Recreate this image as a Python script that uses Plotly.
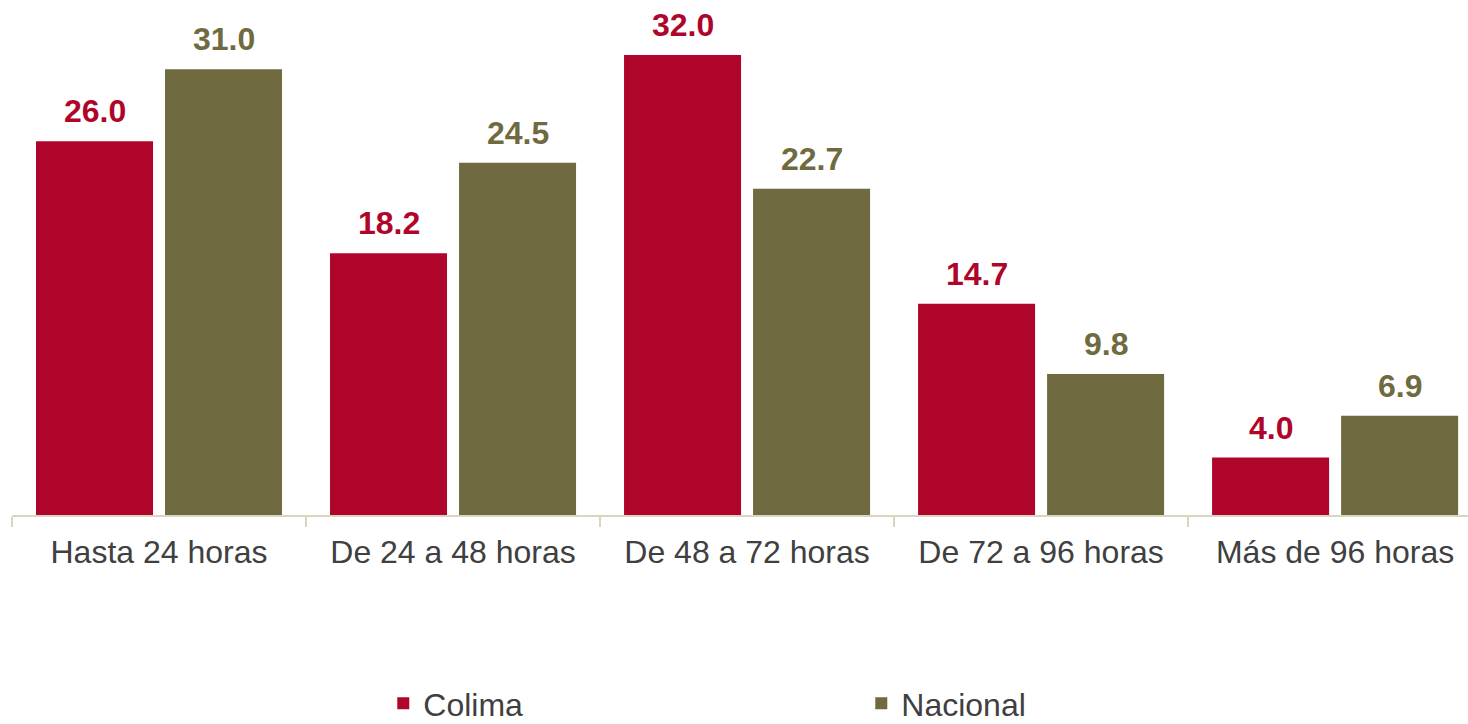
import plotly.graph_objects as go

categories = ["Hasta 24 horas", "De 24 a 48 horas", "De 48 a 72 horas", "De 72 a 96 horas", "Más de 96 horas"]
colima = [26.0, 18.2, 32.0, 14.7, 4.0]
nacional = [31.0, 24.5, 22.7, 9.8, 6.9]
series_names = ["Colima", "Nacional"]

RED = "#B0052A"
OLIVE = "#706A40"
FONT = "Liberation Sans, Arial, sans-serif"

fig = go.Figure()
fig.add_trace(go.Bar(name=series_names[0], x=categories, y=colima, marker_color=RED,
                     marker_line_width=0))
fig.add_trace(go.Bar(name=series_names[1], x=categories, y=nacional, marker_color=OLIVE,
                     marker_line_width=0))

for vals, color, shift in [(colima, RED, -64.5), (nacional, OLIVE, 64.5)]:
    for c, v in zip(categories, vals):
        fig.add_annotation(x=c, y=v, text=f"<b>{v:.1f}</b>", showarrow=False,
                           xshift=shift, yshift=10, yanchor="bottom",
                           font=dict(family=FONT, size=32, color=color))

fig.update_layout(
    width=1468, height=724,
    margin=dict(l=12, r=0, t=0, b=209, autoexpand=False),
    paper_bgcolor="white", plot_bgcolor="white",
    barmode="group", bargap=0.1224, bargroupgap=0.093,
    font=dict(family=FONT, size=32, color="#404040"),
    xaxis=dict(range=[-0.5, 4.452], showline=True, linecolor="#D9D5C0", linewidth=1.5,
               ticks="outside", tickson="boundaries", ticklen=10, tickcolor="#D9D5C0",
               tickwidth=1.5, tickfont=dict(size=32, color="#404040"), showgrid=False,
               ticklabelstandoff=8, automargin=False),
    yaxis=dict(range=[0, 35.826], visible=False, showgrid=False, zeroline=False),
    showlegend=True,
    legend=dict(orientation="h", x=0.255, xanchor="left", y=-0.366, yanchor="middle",
                entrywidth=433, entrywidthmode="pixels",
                font=dict(size=32, color="#404040"), bgcolor="rgba(0,0,0,0)"),
)

fig.write_html("out.html", config={"displayModeBar": False},
               post_script="document.body.style.margin='0';document.body.style.overflow='hidden';")
